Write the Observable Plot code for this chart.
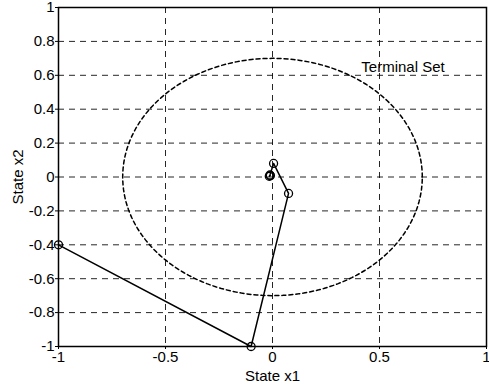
<!DOCTYPE html>
<html><head><meta charset="utf-8">
<script src="https://cdn.jsdelivr.net/npm/d3@7"></script>
<script src="https://cdn.jsdelivr.net/npm/@observablehq/plot@0.6"></script>
<style>
body{margin:0;background:#fff;}
svg{font-family:"Liberation Sans",Arial,sans-serif;}
g[aria-label$="tick label"]{font-size:15px !important;}
g[aria-label$="tick label"] text{font-size:15px !important;}
</style>
</head><body>
<div id="chart"></div>
<script>
// trajectory states
const stateX1 = [-1, -0.1, 0.075, 0.005, -0.012, -0.015, -0.01];
const stateX2 = [-0.4, -1, -0.097, 0.08, 0.012, 0.004, 0.008];
const terminalRadius = 0.7;
const xTicks = [-1, -0.5, 0, 0.5, 1];
const yTicks = [-1, -0.8, -0.6, -0.4, -0.2, 0, 0.2, 0.4, 0.6, 0.8, 1];
const labelText = "Terminal Set";
const labelPos = [0.415, 0.645];

const traj = stateX1.map((x, i) => ({x, y: stateX2[i]}));
const angles = d3.range(0, 361, 2).map(d => d * Math.PI / 180);
const circle = angles.map(a => ({x: terminalRadius * Math.cos(a), y: terminalRadius * Math.sin(a)}));
const fmt = d => String(d);

const chart = Plot.plot({
  width: 489, height: 389,
  marginLeft: 58, marginRight: 3, marginTop: 7, marginBottom: 43,
  style: {fontFamily: '"Liberation Sans", Arial, sans-serif', fontSize: "15px", color: "#000", background: "#fff"},
  x: {domain: [-1, 1], ticks: xTicks, tickFormat: fmt},
  y: {domain: [-1, 1], ticks: yTicks, tickFormat: fmt},
  marks: [
    Plot.gridX(xTicks.slice(1, -1), {stroke: "#000", strokeOpacity: 0.85, strokeDasharray: "6,5", strokeWidth: 1}),
    Plot.gridY(yTicks.slice(1, -1), {stroke: "#000", strokeOpacity: 0.85, strokeDasharray: "6,5", strokeWidth: 1}),
    Plot.axisX({ticks: xTicks, tickFormat: fmt, tickSize: 3, tickPadding: 2, fontSize: 15, label: "State x1", labelAnchor: "center", labelArrow: "none", labelOffset: 34}),
    Plot.axisY({ticks: yTicks, tickFormat: fmt, tickSize: 3, tickPadding: 1, fontSize: 15, label: "State x2", labelAnchor: "center", labelArrow: "none", labelOffset: 46}),
    Plot.line(circle, {x: "x", y: "y", stroke: "#000", strokeWidth: 1.5, strokeDasharray: "4,3"}),
    Plot.text([labelText], {x: () => labelPos[0], y: () => labelPos[1], text: d => d, textAnchor: "start", fontSize: 15, fill: "#000"}),
    Plot.line(traj, {x: "x", y: "y", stroke: "#000", strokeWidth: 1.5}),
    Plot.dot(traj, {x: "x", y: "y", r: 4, stroke: "#000", strokeWidth: 1.3, fill: "none"}),
    Plot.frame({stroke: "#000", strokeWidth: 1.5})
  ]
});
document.getElementById("chart").appendChild(chart);
</script>
</body></html>
